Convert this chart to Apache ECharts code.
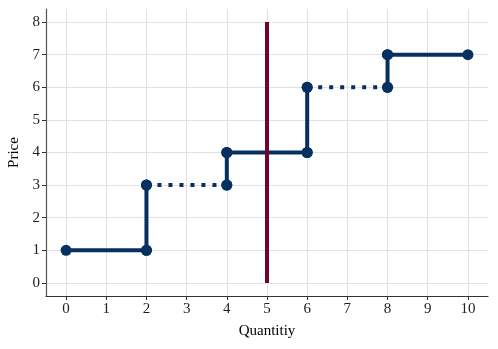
<!DOCTYPE html>
<html>
<head>
<meta charset="utf-8">
<script src="https://cdn.jsdelivr.net/npm/echarts@6/dist/echarts.min.js"></script>
<style>
  html, body { margin: 0; padding: 0; background: #fff; }
  #chart { width: 498px; height: 349px; }
</style>
</head>
<body>
<div id="chart"></div>
<script>
// step function points (quantity, price)
const stepX = [0, 2, 2, 4, 4, 6, 6, 8, 8, 10];
const stepY = [1, 1, 3, 3, 4, 4, 6, 6, 7, 7];
// style of segment i (from point i to i+1)
const segStyle = ['solid', 'solid', 'dotted', 'solid', 'solid', 'solid', 'dotted', 'solid', 'solid'];
const vlineX = 5;
const vlineY = [0, 8];
const xTicks = [0, 1, 2, 3, 4, 5, 6, 7, 8, 9, 10];
const yTicks = [0, 1, 2, 3, 4, 5, 6, 7, 8];

const navy = '#06305f';
const maroon = '#6e0530';
const font = '"Liberation Serif", "DejaVu Serif", serif';

var chartDom = document.getElementById('chart');
const chart = echarts.init(chartDom, null, { renderer: 'canvas' });

let series = segStyle.map((s, i) => ({
  type: 'line',
  data: [[stepX[i], stepY[i]], [stepX[i + 1], stepY[i + 1]]],
  symbol: 'circle',
  symbolSize: 11,
  showSymbol: true,
  itemStyle: { color: navy },
  lineStyle: {
    color: navy,
    width: 4,
    type: s === 'dotted' ? [4, 7] : 'solid',
    cap: 'butt'
  },
  z: 2,
  animation: false
}));

series.push({
  type: 'line',
  data: vlineY.map(y => [vlineX, y]),
  symbol: 'none',
  lineStyle: { color: maroon, width: 4 },
  z: 5,
  animation: false
});

const option = {
  animation: false,
  grid: { left: 46, right: 10, top: 9, bottom: 53, containLabel: false, outerBoundsMode: 'none' },
  xAxis: {
    type: 'value',
    min: -0.5,
    max: 10.5,
    name: 'Quantitiy',
    nameLocation: 'middle',
    nameGap: 28,
    nameTextStyle: { fontFamily: font, fontSize: 15, color: '#000' },
    axisLine: { show: true, onZero: false, lineStyle: { color: '#333', width: 1.2 } },
    axisTick: { show: true, length: 4, customValues: xTicks, lineStyle: { color: '#333' } },
    axisLabel: { customValues: xTicks, fontFamily: font, fontSize: 15, color: '#222', margin: 6 },
    splitLine: { show: true, lineStyle: { color: '#e1e1e1', width: 1 } }
  },
  yAxis: {
    type: 'value',
    min: -0.4,
    max: 8.4,
    name: 'Price',
    nameLocation: 'middle',
    nameGap: 21,
    nameTextStyle: { fontFamily: font, fontSize: 15, color: '#000' },
    axisLine: { show: true, onZero: false, lineStyle: { color: '#555', width: 1.2 } },
    axisTick: { show: true, length: 4, customValues: yTicks, lineStyle: { color: '#333' } },
    axisLabel: { customValues: yTicks, fontFamily: font, fontSize: 15, color: '#222', margin: 6 },
    splitLine: { show: true, lineStyle: { color: '#e1e1e1', width: 1 } }
  },
  series: series
};

chart.setOption(option);
</script>
</body>
</html>
